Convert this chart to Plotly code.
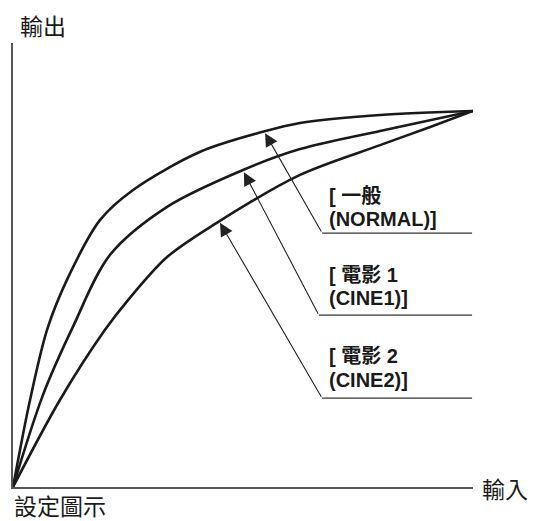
import plotly.graph_objects as go

# input / output in % of the axis length
normal_in = [0, 3.7, 7.4, 11.7, 18.9, 26.1, 40.7, 54.3, 62.4, 79.8, 100]
normal_out = [0, 19.6, 35.4, 46.6, 60.1, 66.9, 75.5, 80.0, 82.0, 83.8, 84.7]

cine1_in = [0, 6.5, 13.0, 21.1, 33.5, 50.0, 62.4, 79.8, 100]
cine1_out = [0, 20.7, 36.0, 52.3, 63.1, 71.4, 76.1, 80.2, 84.7]

cine2_in = [0, 10.2, 20.0, 25.0, 33.5, 44.3, 62.4, 79.8, 90.7, 100]
cine2_out = [0, 19.6, 35.4, 42.1, 51.8, 59.5, 70.3, 77.0, 81.1, 84.7]

label_line1 = ['[ 一般', '[ 電影 1', '[ 電影 2']
label_line2 = ['(NORMAL)]', '(CINE1)]', '(CINE2)]']
line1_y = [65.5, 47.7, 29.5]
line2_y = [60.4, 42.6, 24.1]
label_x = 68.3
arrow_head = [(54.8, 79.7), (50.2, 70.9), (45.0, 59.5)]
arrow_tail = [(67.2, 57.2), (66.5, 38.7), (67.2, 20.0)]
leader_end = 99.8

fig = go.Figure()

for xs, ys in [(normal_in, normal_out), (cine1_in, cine1_out), (cine2_in, cine2_out)]:
    fig.add_trace(go.Scatter(x=xs, y=ys, mode='lines',
                             line=dict(color='#1a1a1a', width=2.6, shape='spline', smoothing=0.9),
                             hoverinfo='skip'))

label_font = dict(family='Liberation Sans, Noto Sans CJK TC', size=20, color='#1a1a1a')
for i in range(3):
    hx, hy = arrow_head[i]
    tx, ty = arrow_tail[i]
    # leader line under the label
    fig.add_trace(go.Scatter(x=[tx, leader_end], y=[ty, ty], mode='lines',
                             line=dict(color='#333333', width=1.2), hoverinfo='skip'))
    fig.add_annotation(x=hx, y=hy, ax=tx, ay=ty, xref='x', yref='y', axref='x', ayref='y',
                       showarrow=True, arrowhead=2, arrowsize=2.4, arrowwidth=1.1,
                       arrowcolor='#222222', text='')
    fig.add_annotation(x=label_x, y=line1_y[i], xref='x', yref='y', text='<b>' + label_line1[i] + '</b>',
                       showarrow=False, xanchor='left', yanchor='middle', font=label_font)
    fig.add_annotation(x=label_x, y=line2_y[i], xref='x', yref='y', text='<b>' + label_line2[i] + '</b>',
                       showarrow=False, xanchor='left', yanchor='middle', font=label_font)

axis_font = dict(family='Noto Sans CJK TC', size=23, color='#1a1a1a')
fig.add_annotation(x=0.011, y=1.04, xref='paper', yref='paper', text='輸出', showarrow=False,
                   xanchor='left', yanchor='middle', font=axis_font)
fig.add_annotation(x=1.015, y=-0.002, xref='paper', yref='paper', text='輸入', showarrow=False,
                   xanchor='left', yanchor='middle', font=axis_font)
fig.add_annotation(x=0, y=-0.0405, xref='paper', yref='paper', text='設定圖示', showarrow=False,
                   xanchor='left', yanchor='middle', font=axis_font, borderpad=0)

fig.update_xaxes(range=[0, 100], showline=True, linecolor='#555555', linewidth=1.5,
                 showgrid=False, zeroline=False, showticklabels=False, ticks='')
fig.update_yaxes(range=[0, 100], showline=True, linecolor='#555555', linewidth=1.5,
                 showgrid=False, zeroline=False, showticklabels=False, ticks='')
fig.update_layout(width=539, height=521, margin=dict(l=5, r=74, t=35, b=42),
                  paper_bgcolor='white', plot_bgcolor='white', showlegend=False)

fig.write_html("out.html")
